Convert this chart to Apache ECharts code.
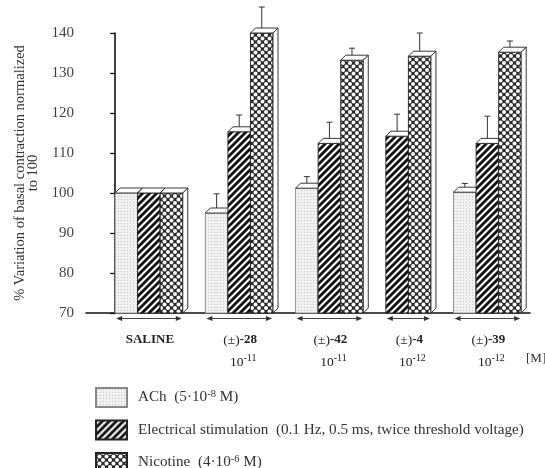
<!DOCTYPE html>
<html><head><meta charset="utf-8">
<script src="https://cdn.jsdelivr.net/npm/echarts@6/dist/echarts.min.js"></script>
<style>html,body{margin:0;padding:0;background:#fff}#c{width:545px;height:468px}</style>
</head><body><div id="c"></div>
<script>
// ---------- data ----------
const categories = ['SALINE', '(±)-28', '(±)-42', '(±)-4', '(±)-39'];
const concExponents = [null, '-11', '-11', '-12', '-12'];
const seriesNames = ['ACh  (5·10^-8^ M)', 'Electrical stimulation  (0.1 Hz, 0.5 ms, twice threshold voltage)', 'Nicotine  (4·10^-6^ M)'];
const achValues  = [100, 95.0, 101.2, null, 100.2];
const achErrors  = [0, 4.8, 2.9, null, 2.2];
const elecValues = [100, 115.3, 112.4, 114.2, 112.4];
const elecErrors = [0, 4.2, 5.3, 5.5, 6.8];
const nicValues  = [100, 140.0, 133.2, 134.2, 135.2];
const nicErrors  = [0, 6.5, 3.0, 5.8, 2.8];
const yMin = 70, yMax = 140, yStep = 10;

// ---------- patterns ----------
const FONT = "'Liberation Serif','Times New Roman',serif";
function mk(size, draw) { const c = document.createElement('canvas'); c.width = c.height = size; draw(c.getContext('2d'), size); return c; }
const stipple = mk(3, (g) => { g.fillStyle = '#f1f1f1'; g.fillRect(0,0,3,3); g.fillStyle = '#c9c9c9'; g.fillRect(1,1,1,1); });
const stripes = mk(7, (g, s) => {
  g.fillStyle = '#fff'; g.fillRect(0,0,s,s);
  g.strokeStyle = '#111'; g.lineWidth = 2.8;
  [[-2,2,2,-2],[0,s,s,0],[s-2,s+2,s+2,s-2]].forEach(l => { g.beginPath(); g.moveTo(l[0],l[1]); g.lineTo(l[2],l[3]); g.stroke(); });
});
const cross = mk(7, (g, s) => {
  g.fillStyle = '#2a2a2a'; g.fillRect(0,0,s,s);
  g.fillStyle = '#fff';
  [[s/2,s/2],[0,0],[s,0],[0,s],[s,s]].forEach(p => { g.beginPath(); g.arc(p[0], p[1], 2.0, 0, Math.PI*2); g.fill(); });
});
const fills = [{image: stipple, repeat: 'repeat'}, {image: stripes, repeat: 'repeat'}, {image: cross, repeat: 'repeat'}];
const borders = ['#888', '#222', '#222'];

// ---------- slot layout derived from data ----------
const valueSets = [achValues, elecValues, nicValues];
const errorSets = [achErrors, elecErrors, nicErrors];
const seriesData = [[], [], []];
const groupData = [];
let pos = 0;
categories.forEach((c, gi) => {
  const start = pos;
  valueSets.forEach((vals, si) => {
    if (vals[gi] != null) { seriesData[si].push([pos, vals[gi], errorSets[si][gi]]); pos++; }
  });
  groupData.push([start, pos, gi]);
  pos += 1;
});

const D = 5;
function barItem(si) {
  return function (params, api) {
    const slot = api.value(0), v = api.value(1), e = api.value(2);
    const p0 = api.coord([slot, v]);
    const p1 = api.coord([slot + 1, yMin]);
    const x = p0[0], y = p0[1], w = p1[0] - p0[0], yb = p1[1];
    const st = {stroke: '#222', lineWidth: 0.9};
    const ch = [
      {type: 'rect', shape: {x: x, y: y, width: w, height: yb - y}, style: {fill: fills[si], stroke: borders[si], lineWidth: 0.9}},
      {type: 'polygon', shape: {points: [[x, y], [x + D, y - D], [x + w + D, y - D], [x + w, y]]}, style: Object.assign({fill: '#fff'}, st)},
      {type: 'polygon', shape: {points: [[x + w, y], [x + w + D, y - D], [x + w + D, yb - D], [x + w, yb]]}, style: Object.assign({fill: '#fff'}, st)}
    ];
    if (e > 0) {
      const pe = api.coord([slot + 0.5, v + e]);
      const xc = pe[0];
      ch.push({type: 'line', shape: {x1: xc, y1: y - D, x2: xc, y2: pe[1]}, style: {stroke: '#333', lineWidth: 1}});
      ch.push({type: 'line', shape: {x1: xc - 3, y1: pe[1], x2: xc + 3, y2: pe[1]}, style: {stroke: '#333', lineWidth: 1}});
    }
    return {type: 'group', children: ch};
  };
}

function groupItem(params, api) {
  const s = api.value(0), e = api.value(1), gi = api.value(2);
  const a = api.coord([s, yMin]), b = api.coord([e, yMin]);
  const y = a[1] + 5.5;
  const x1 = a[0] + 1, x2 = b[0] - 1, L = 6, H = 2.6;
  const cx = (a[0] + b[0]) / 2 + 1;
  const name = categories[gi];
  const k = name.indexOf(')');
  const nameText = k >= 0 ? '{n|' + name.slice(0, k + 1) + '}{b|' + name.slice(k + 1) + '}' : '{b|' + name + '}';
  const ch = [
    {type: 'line', shape: {x1: x1 + L - 1, y1: y, x2: x2 - L + 1, y2: y}, style: {stroke: '#444', lineWidth: 1}},
    {type: 'polygon', shape: {points: [[x1, y], [x1 + L, y - H], [x1 + L, y + H]]}, style: {fill: '#333'}},
    {type: 'polygon', shape: {points: [[x2, y], [x2 - L, y - H], [x2 - L, y + H]]}, style: {fill: '#333'}},
    {type: 'text', style: {text: nameText, x: cx, y: a[1] + 27, align: 'center', verticalAlign: 'middle',
      rich: {n: {fontFamily: FONT, fontSize: 13.5, fill: '#222'}, b: {fontFamily: FONT, fontSize: 13, fontWeight: 'bold', fill: '#222'}}}}
  ];
  const ex = concExponents[gi];
  if (ex) {
    ch.push({type: 'text', style: {text: '{n|10}{s|' + ex + '}', x: cx + 3, y: a[1] + 49, align: 'center', verticalAlign: 'middle',
      rich: {n: {fontFamily: FONT, fontSize: 13.5, fill: '#222', lineHeight: 18, verticalAlign: 'middle'},
             s: {fontFamily: FONT, fontSize: 10, fill: '#222', lineHeight: 9, verticalAlign: 'top'}}}});
  }
  return {type: 'group', children: ch};
}

function richName(name) {
  return name.split('^').map((p, i) => p ? ((i % 2 ? '{s|' : '{n|') + p + '}') : '').join('');
}

const chart = echarts.init(document.getElementById('c'), null, {renderer: 'canvas'});
chart.setOption({
  animation: false,
  backgroundColor: '#fff',
  grid: {left: 86, right: 15, top: 33, bottom: 155},
  xAxis: {
    type: 'value', min: -1.29, max: 18.39,
    axisLine: {show: true, onZero: false, lineStyle: {color: '#111', width: 1.6}},
    axisTick: {show: false}, axisLabel: {show: false}, splitLine: {show: false}
  },
  yAxis: {
    type: 'value', min: yMin, max: yMax, interval: yStep,
    name: '% Variation of basal contraction normalized\nto 100',
    nameLocation: 'middle', nameGap: 44,
    nameTextStyle: {fontFamily: FONT, fontSize: 14.5, color: '#333', lineHeight: 13},
    axisLine: {show: true, lineStyle: {color: '#111', width: 1.6}},
    axisTick: {show: true, length: 5, lineStyle: {color: '#111', width: 1.3}},
    axisLabel: {fontFamily: FONT, fontSize: 15, color: '#444', margin: 12},
    splitLine: {show: false}
  },
  legend: {
    orient: 'vertical', left: 90, top: 382, height: 200,
    itemWidth: 31, itemHeight: 19, itemGap: 11.5, icon: 'rect',
    data: seriesNames,
    formatter: richName,
    textStyle: {
      padding: [0, 0, 0, 6],
      rich: {
        n: {fontFamily: FONT, fontSize: 15.2, color: '#333', lineHeight: 18, verticalAlign: 'middle'},
        s: {fontFamily: FONT, fontSize: 10.5, color: '#333', lineHeight: 9, verticalAlign: 'top'}
      }
    }
  },
  graphic: [{type: 'text', left: 526, top: 352, style: {text: '[M]', font: '13px ' + FONT, fill: '#333'}}],
  series: seriesNames.map((nm, si) => ({
    type: 'custom', name: nm, data: seriesData[si], clip: false,
    encode: {x: 0, y: 1},
    itemStyle: {color: fills[si], borderColor: borders[si], borderWidth: 0.9},
    renderItem: barItem(si)
  })).concat([{
    type: 'custom', name: 'groups', data: groupData, clip: false, silent: true,
    encode: {x: [0, 1], y: 2}, renderItem: groupItem, z: 3
  }])
});
</script></body></html>
